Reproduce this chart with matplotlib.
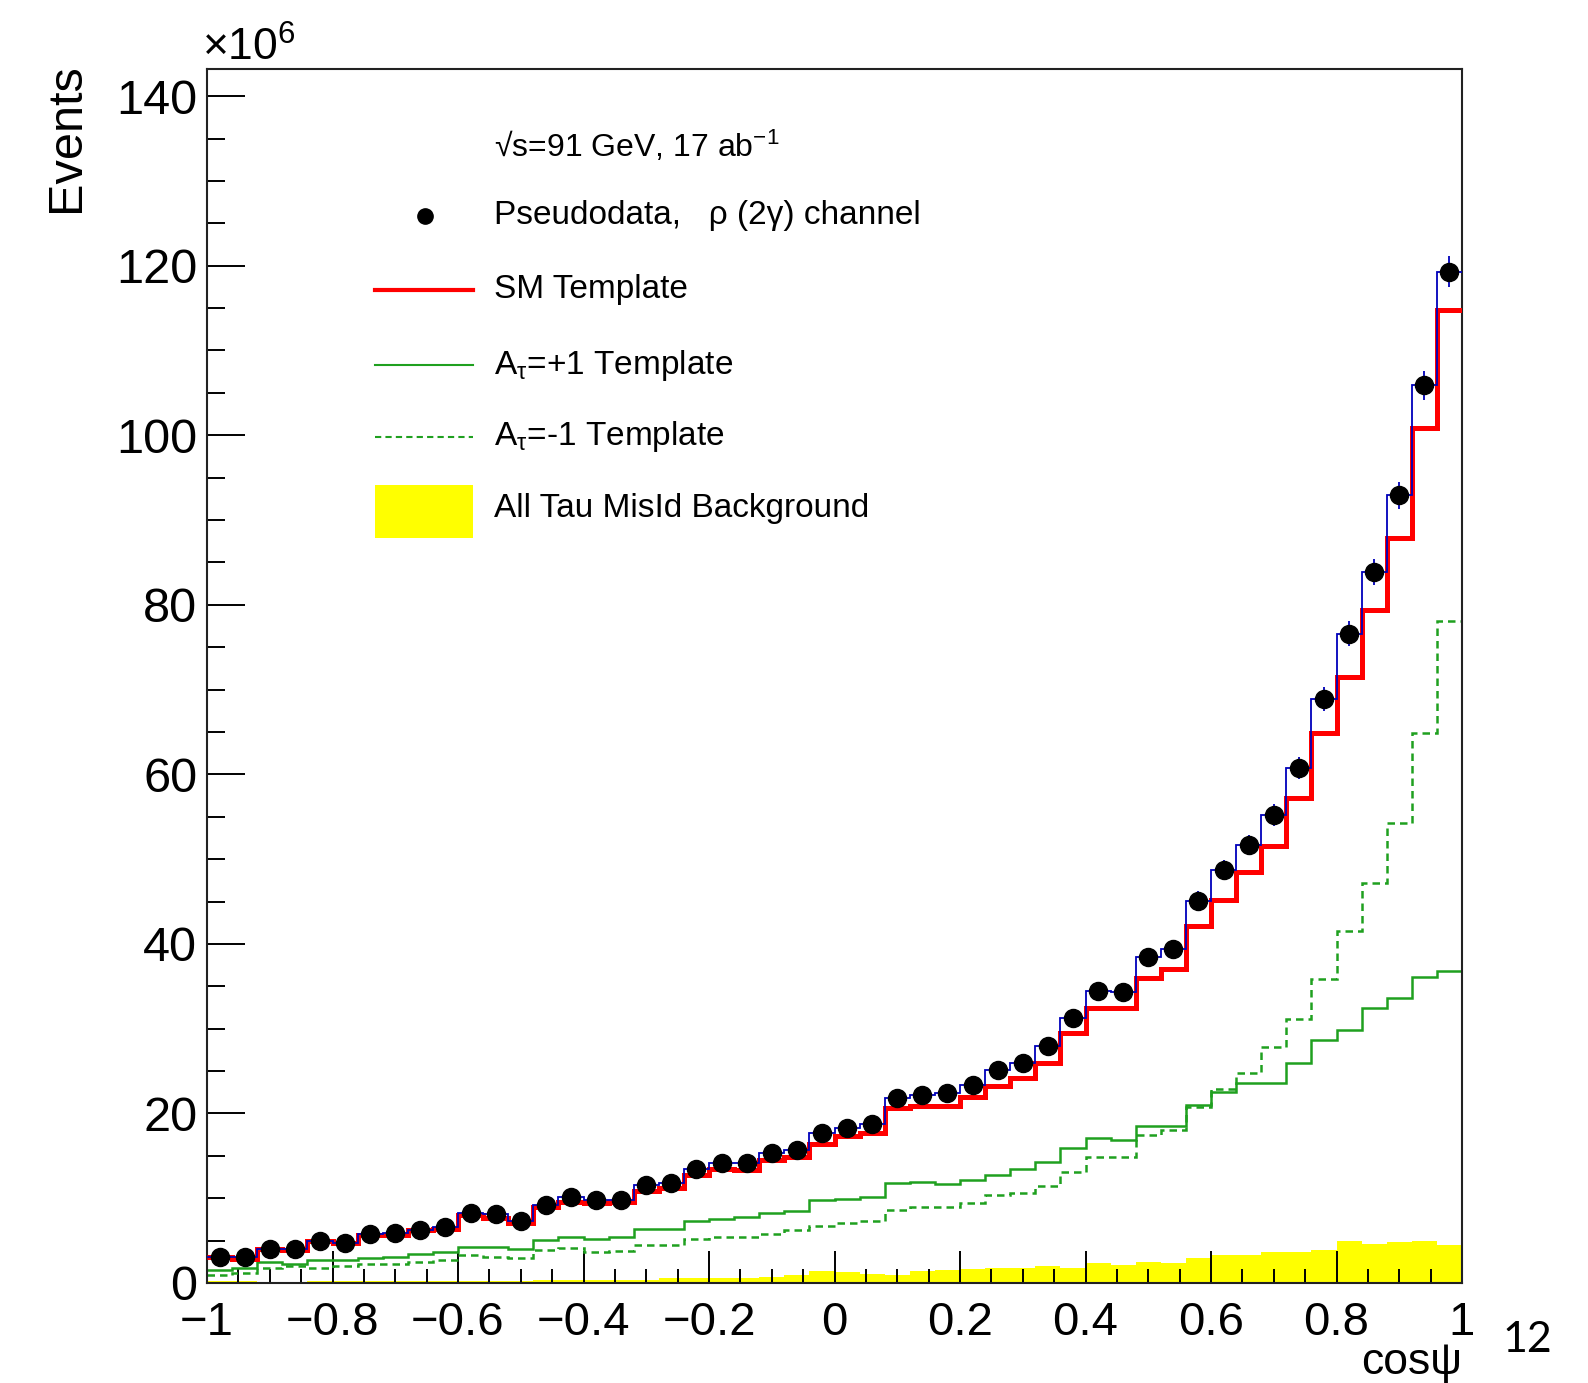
import matplotlib as mpl
mpl.use("Agg")
import matplotlib.pyplot as plt
from matplotlib.lines import Line2D
from matplotlib.patches import Rectangle
import numpy as np

plt.rcParams['font.family'] = ['Liberation Sans', 'DejaVu Sans']
plt.rcParams['mathtext.fontset'] = 'custom'
plt.rcParams['mathtext.rm'] = 'Liberation Sans'
plt.rcParams['mathtext.it'] = 'Liberation Sans'
plt.rcParams['mathtext.sf'] = 'Liberation Sans'

# 50 bins in cos(psi), values in units of 10^6 events
bin_edges = np.linspace(-1, 1, 51)

pseudodata = [3.1, 3.1, 4.0, 4.0, 5.0, 4.7, 5.8, 5.9, 6.2, 6.6,
              8.3, 8.1, 7.3, 9.2, 10.1, 9.8, 9.8, 11.6, 11.8, 13.5,
              14.1, 14.1, 15.3, 15.7, 17.7, 18.3, 18.8, 21.8, 22.2, 22.4,
              23.4, 25.1, 25.9, 28.0, 31.3, 34.5, 34.3, 38.4, 39.4, 45.1,
              48.7, 51.7, 55.2, 60.7, 68.9, 76.6, 83.9, 92.9, 105.9, 119.3]

pseudodata_err = [0.3, 0.3, 0.35, 0.35, 0.4, 0.4, 0.4, 0.4, 0.45, 0.45,
                  0.5, 0.5, 0.45, 0.5, 0.55, 0.55, 0.55, 0.6, 0.6, 0.6,
                  0.65, 0.65, 0.7, 0.7, 0.7, 0.75, 0.75, 0.8, 0.8, 0.8,
                  0.8, 0.85, 0.85, 0.9, 0.95, 1.0, 1.0, 1.05, 1.05, 1.15,
                  1.2, 1.2, 1.25, 1.3, 1.4, 1.5, 1.55, 1.6, 1.7, 1.8]

sm_template = [3.1, 2.8, 4.0, 3.9, 4.9, 4.7, 5.7, 5.7, 6.2, 6.4,
               8.0, 7.7, 7.1, 9.0, 9.6, 9.4, 9.6, 10.8, 11.2, 12.7,
               13.4, 13.3, 14.5, 14.9, 16.4, 17.3, 17.7, 20.6, 20.9, 20.9,
               21.9, 23.2, 24.2, 26.0, 29.5, 32.4, 32.4, 36.0, 37.0, 42.1,
               45.2, 48.5, 51.6, 57.2, 64.9, 71.5, 79.4, 87.9, 100.8, 114.8]

atau_plus = [1.5, 1.8, 2.5, 2.2, 2.7, 2.7, 2.9, 3.1, 3.4, 3.6,
             4.2, 4.2, 4.0, 5.1, 5.4, 5.2, 5.4, 6.4, 6.4, 7.3,
             7.5, 7.8, 8.3, 8.5, 9.8, 9.9, 10.2, 11.8, 11.9, 11.7,
             12.2, 12.7, 13.4, 14.3, 15.9, 17.1, 16.9, 18.5, 18.5, 21.0,
             22.5, 23.6, 23.6, 25.9, 28.7, 29.9, 32.4, 33.6, 36.1, 36.8]

atau_minus = [1.0, 1.2, 1.8, 2.0, 1.8, 2.0, 2.2, 2.2, 2.5, 2.7,
              3.3, 3.1, 2.9, 3.9, 4.1, 3.6, 3.8, 4.5, 4.5, 5.2,
              5.4, 5.4, 5.8, 6.3, 6.7, 7.1, 7.3, 8.6, 9.0, 9.0,
              9.4, 10.4, 10.6, 11.5, 13.1, 14.9, 14.9, 17.4, 18.1, 20.8,
              22.9, 24.8, 27.8, 31.1, 35.9, 41.5, 47.2, 54.3, 64.9, 78.1]

misid_bkg = [0.2, 0.2, 0.1, 0.1, 0.2, 0.2, 0.2, 0.2, 0.2, 0.2,
             0.2, 0.2, 0.2, 0.3, 0.3, 0.3, 0.3, 0.4, 0.6, 0.6,
             0.6, 0.6, 0.7, 0.9, 1.4, 1.3, 1.1, 1.0, 1.4, 1.5,
             1.6, 1.8, 1.8, 2.0, 1.8, 2.4, 2.1, 2.5, 2.4, 2.9,
             3.3, 3.3, 3.7, 3.7, 3.9, 5.0, 4.6, 4.8, 5.0, 4.5]

xtick_values = [-1, -0.8, -0.6, -0.4, -0.2, 0, 0.2, 0.4, 0.6, 0.8, 1]
xtick_labels = ['\u22121', '\u22120.8', '\u22120.6', '\u22120.4', '\u22120.2',
                '0', '0.2', '0.4', '0.6', '0.8', '1']
ytick_values = [0, 20, 40, 60, 80, 100, 120, 140]

green = '#1fa01f'
centers = 0.5 * (bin_edges[:-1] + bin_edges[1:])

fig = plt.figure(figsize=(15.88, 13.83), dpi=100)
ax = fig.add_axes([207 / 1588, 100 / 1383, 1255 / 1588, 1214 / 1383])

ax.stairs(misid_bkg, bin_edges, fill=True, color='#ffff00', zorder=1)
ax.stairs(atau_minus, bin_edges, baseline=None, color=green, lw=1.8,
          linestyle=(0, (3, 2)), zorder=2)
ax.stairs(atau_plus, bin_edges, baseline=None, color=green, lw=1.8, zorder=2)
ax.stairs(sm_template, bin_edges, baseline=None, color='#ff0000', lw=3.6, zorder=3)
ax.stairs(pseudodata, bin_edges, baseline=None, color='#0000bb', lw=1.3, zorder=4)
ax.errorbar(centers, pseudodata, yerr=pseudodata_err, fmt='o', color='black',
            ecolor='#0000bb', elinewidth=1.3, markersize=13, capsize=0, zorder=5)

ax.set_xlim(-1, 1)
ax.set_ylim(0, 143.2)

ax.set_xticks(xtick_values)
ax.set_xticklabels(xtick_labels)
ax.set_yticks(ytick_values)
ax.xaxis.set_minor_locator(mpl.ticker.MultipleLocator(0.05))
ax.yaxis.set_minor_locator(mpl.ticker.MultipleLocator(5))
ax.tick_params(axis='x', which='major', direction='in', length=23, width=1.4,
               labelsize=34, pad=13, top=False)
ax.tick_params(axis='x', which='minor', direction='in', length=10, width=1.4, top=False)
ax.tick_params(axis='y', which='major', direction='in', length=27, width=1.4,
               labelsize=35, pad=7, right=False)
ax.tick_params(axis='y', which='minor', direction='in', length=13, width=1.4, right=False)
for sp in ax.spines.values():
    sp.set_linewidth(1.5)
    sp.set_color('#222222')

ax.set_ylabel('Events', fontsize=35, loc='top')
ax.yaxis.set_label_coords(-0.094, 1.005)
ax.set_xlabel('cos\u03c8', fontsize=32, loc='right', labelpad=-2)

ax.text(-0.004, 1.007, '\u00d710$^{6}$', transform=ax.transAxes, fontsize=32,
        ha='left', va='baseline')

# legend, drawn by hand in ROOT style
tx = 0.229
ax.text(tx, 0.936, '\u221as=91 GeV, 17 ab$^{-1}$', transform=ax.transAxes,
        fontsize=23, va='center')
ax.add_line(Line2D([0.174], [0.879], transform=ax.transAxes, marker='o',
                   color='black', markersize=11))
ax.text(tx, 0.879, 'Pseudodata,   \u03c1 (2\u03b3) channel', transform=ax.transAxes,
        fontsize=24, va='center')
ax.add_line(Line2D([0.134, 0.212], [0.818, 0.818], transform=ax.transAxes,
                   color='#ff0000', lw=3))
ax.text(tx, 0.818, 'SM Template', transform=ax.transAxes, fontsize=24, va='center')
ax.add_line(Line2D([0.134, 0.212], [0.756, 0.756], transform=ax.transAxes,
                   color=green, lw=1.5))
ax.text(tx, 0.756, r'A$_{\tau}$=+1 Template', transform=ax.transAxes,
        fontsize=24, va='center')
ax.add_line(Line2D([0.134, 0.212], [0.697, 0.697], transform=ax.transAxes,
                   color=green, lw=1.5, linestyle=(0, (3, 2))))
ax.text(tx, 0.697, r'A$_{\tau}$=-1 Template', transform=ax.transAxes,
        fontsize=24, va='center')
ax.add_patch(Rectangle((0.134, 0.614), 0.078, 0.043, transform=ax.transAxes,
                       color='#ffff00', lw=0))
ax.text(tx, 0.638, 'All Tau MisId Background', transform=ax.transAxes,
        fontsize=24, va='center')

fig.text(0.9616, 0.031, '12', fontsize=31, family='Lato', ha='center', va='center')

fig.savefig('out.png', dpi=100)
